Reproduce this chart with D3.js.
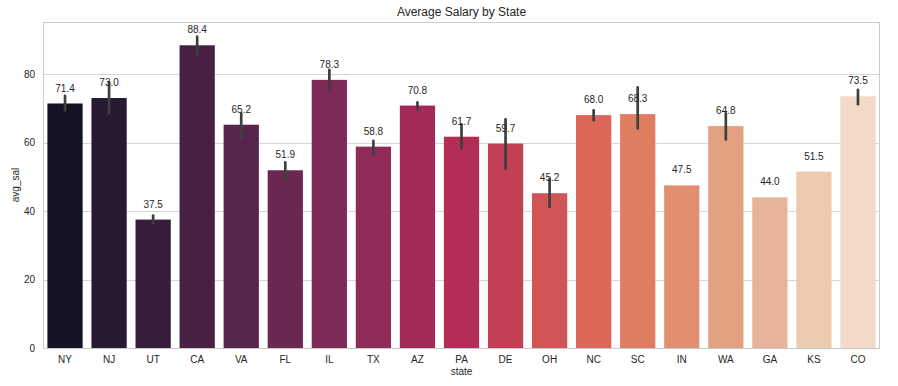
<!DOCTYPE html>
<html>
<head>
<meta charset="utf-8">
<script src="https://cdn.jsdelivr.net/npm/d3@7"></script>
<style>
  body { margin: 0; background: #fff; }
  text { font-family: "Liberation Sans", Arial, sans-serif; fill: #262626; }
</style>
</head>
<body>
<svg></svg>
<script>
let states = ["NY", "NJ", "UT", "CA", "VA", "FL", "IL", "TX", "AZ", "PA", "DE", "OH", "NC", "SC", "IN", "WA", "GA", "KS", "CO"];
let avgSal = [71.4, 73.0, 37.5, 88.4, 65.2, 51.9, 78.3, 58.8, 70.8, 61.7, 59.7, 45.2, 68.0, 68.3, 47.5, 64.8, 44.0, 51.5, 73.5];
// confidence interval ends (null = no error bar)
let ciLow = [69.4, 68.5, 36.4, 85.8, 61.2, 49.0, 75.5, 56.6, 69.7, 58.3, 52.3, 41.2, 66.5, 64.1, null, 60.9, null, null, 71.2];
let ciHigh = [73.6, 77.6, 38.7, 90.9, 68.5, 54.2, 81.2, 60.5, 71.7, 65.3, 66.8, 49.3, 69.4, 76.1, null, 68.5, null, null, 75.4];
let colors = ["#141223", "#251a30", "#361d3b", "#472044", "#57244c", "#6a2852", "#7d2a57", "#8f2a59", "#a32959", "#b32e56",
              "#c33f55", "#d15456", "#da6757", "#df7d62", "#e28f71", "#e3a182", "#e7b398", "#eccaad", "#f2d9c9"];
let yTicks = [0, 20, 40, 60, 80];

let width = 898;
let height = 386;
let margin = { left: 43, right: 18, top: 22, bottom: 38 };

let svg = d3.select("svg").attr("width", width).attr("height", height);

let values = states.map((s, i) => ({ state: s, sal: avgSal[i], lo: ciLow[i], hi: ciHigh[i], color: colors[i] }));

let xScale = d3.scaleBand()
    .domain(states)
    .range([margin.left, width - margin.right])
    .paddingInner(0.2)
    .paddingOuter(0.1);

let yScale = d3.scaleLinear()
    .domain([0, 95.2])
    .range([height - margin.bottom, margin.top]);

// grid
svg.append("g")
   .selectAll("line")
   .data(yTicks)
   .enter()
   .append("line")
   .attr("x1", margin.left)
   .attr("x2", width - margin.right)
   .attr("y1", d => Math.round(yScale(d)) + 0.5)
   .attr("y2", d => Math.round(yScale(d)) + 0.5)
   .attr("stroke", "#d6d6d6")
   .attr("stroke-width", 1);

// bars
svg.selectAll("rect.bar")
   .data(values)
   .enter()
   .append("rect")
   .attr("class", "bar")
   .attr("x", d => xScale(d.state))
   .attr("width", xScale.bandwidth())
   .attr("y", d => yScale(d.sal))
   .attr("height", d => yScale(0) - yScale(d.sal))
   .attr("fill", d => d.color);

// error bars
svg.selectAll("line.err")
   .data(values.filter(d => d.lo !== null))
   .enter()
   .append("line")
   .attr("class", "err")
   .attr("x1", d => xScale(d.state) + xScale.bandwidth() / 2)
   .attr("x2", d => xScale(d.state) + xScale.bandwidth() / 2)
   .attr("y1", d => yScale(d.lo))
   .attr("y2", d => yScale(d.hi))
   .attr("stroke", "#3f3f3f")
   .attr("stroke-width", 2.7)
   .attr("stroke-linecap", "round");

// value labels
svg.selectAll("text.val")
   .data(values)
   .enter()
   .append("text")
   .attr("class", "val")
   .attr("x", d => xScale(d.state) + xScale.bandwidth() / 2)
   .attr("y", d => yScale(d.sal) - 12)
   .attr("text-anchor", "middle")
   .attr("font-size", "10px")
   .text(d => d.sal.toFixed(1));

// frame
svg.append("rect")
   .attr("x", margin.left + 0.5)
   .attr("y", margin.top + 0.5)
   .attr("width", width - margin.left - margin.right - 1)
   .attr("height", height - margin.top - margin.bottom)
   .attr("fill", "none")
   .attr("stroke", "#cccccc")
   .attr("stroke-width", 1);

// axes
let xAxis = d3.axisBottom(xScale).tickSize(0).tickPadding(8);
let gx = svg.append("g")
   .attr("transform", `translate(0, ${height - margin.bottom})`)
   .call(xAxis);
gx.select(".domain").remove();
gx.selectAll("text").attr("font-size", "10px").attr("font-family", "Liberation Sans, Arial, sans-serif").attr("fill", "#262626");

let yAxis = d3.axisLeft(yScale).tickValues(yTicks).tickSize(0).tickPadding(8);
let gy = svg.append("g")
   .attr("transform", `translate(${margin.left}, 0)`)
   .call(yAxis);
gy.select(".domain").remove();
gy.selectAll("text").attr("font-size", "10px").attr("font-family", "Liberation Sans, Arial, sans-serif").attr("fill", "#262626");

// labels
svg.append("text")
   .attr("x", (margin.left + width - margin.right) / 2)
   .attr("y", 16)
   .attr("text-anchor", "middle")
   .attr("font-size", "12px")
   .text("Average Salary by State");

svg.append("text")
   .attr("x", (margin.left + width - margin.right) / 2)
   .attr("y", 375)
   .attr("text-anchor", "middle")
   .attr("font-size", "10px")
   .text("state");

svg.append("text")
   .attr("transform", `translate(19, ${(margin.top + height - margin.bottom) / 2}) rotate(-90)`)
   .attr("text-anchor", "middle")
   .attr("font-size", "10px")
   .text("avg_sal");
</script>
</body>
</html>
